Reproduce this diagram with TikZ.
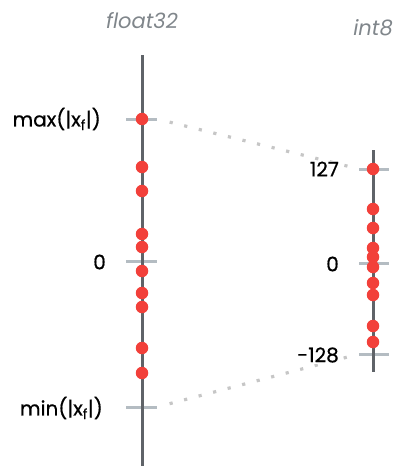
\documentclass[tikz,border=0pt]{standalone}
\usepackage{fontspec}
\setmainfont{Poppins}
\newfontfamily\labfont{Poppins}[FakeBold=0.6]
\definecolor{axisgray}{HTML}{5F6368}
\definecolor{tickgray}{HTML}{B4BCC2}
\definecolor{dotgray}{HTML}{C6C6C6}
\definecolor{ptred}{HTML}{F2403A}
\definecolor{titlegray}{HTML}{80868B}
\begin{document}
\begin{tikzpicture}[x=1pt,y=-1pt,
  axisline/.style={draw=axisgray,line width=3pt},
  tickline/.style={draw=tickgray,line width=3pt},
  mapline/.style={draw=dotgray,line width=3.2pt,dash pattern=on 3.2pt off 11.8pt},
  pt/.style={circle,fill=ptred,inner sep=0pt,minimum size=12.5pt},
  vlabel/.style={font=\labfont\fontsize{20}{24}\selectfont,text=black,fill=white,inner sep=1pt},
  title/.style={font=\itshape\fontsize{21}{24}\selectfont,text=titlegray}]
\useasboundingbox (0,0) rectangle (400,466);
% axes coordinates
\coordinate (ftop) at (142,55);
\coordinate (fbot) at (142,466);
\coordinate (itop) at (373,150);
\coordinate (ibot) at (373,372);
% tick ends
\coordinate (fmaxL) at (126,119); \coordinate (fmaxR) at (157,119);
\coordinate (fzL) at (126,261);   \coordinate (fzR) at (157,261);
\coordinate (fminL) at (126,407); \coordinate (fminR) at (157,407);
\coordinate (imaxL) at (359,169); \coordinate (imaxR) at (389,169);
\coordinate (izL) at (359,263);   \coordinate (izR) at (389,263);
\coordinate (iminL) at (359,354); \coordinate (iminR) at (389,354);
% mapping lines
\draw[mapline,shorten <=13pt,shorten >=3pt] (fmaxR) -- (imaxL);
\draw[mapline,shorten <=13pt,shorten >=3pt] (fminR) -- (iminL);
% ticks
\foreach \a/\b in {fmaxL/fmaxR,fzL/fzR,fminL/fminR,imaxL/imaxR,izL/izR,iminL/iminR}
  \draw[tickline] (\a) -- (\b);
% axes
\draw[axisline] (ftop) -- (fbot);
\draw[axisline] (itop) -- (ibot);
% titles
\node[title] (tf) at (142,21) {float32};
\node[title] (ti) at (373,28) {int8};
% labels
\node[vlabel,anchor=east] (lmax) at (102,119) {max(|x\textsubscript{f}|)};
\node[vlabel,anchor=east] (lz) at (107,262) {0};
\node[vlabel,anchor=east] (lmin) at (104,408) {min(|x\textsubscript{f}|)};
\node[vlabel,anchor=east] (l127) at (340,169) {127};
\node[vlabel,anchor=east] (liz) at (340,264) {0};
\node[vlabel,anchor=east] (l128) at (340,355) {-128};
% points
\foreach \y [count=\i] in {119,167,191,234,247,271,293,307,348,373}
  \node[pt] (f\i) at (142,\y) {};
\foreach \y [count=\i] in {169,209,228,248,257,267,283,295,326,342}
  \node[pt] (q\i) at (373,\y) {};
\end{tikzpicture}
\end{document}
